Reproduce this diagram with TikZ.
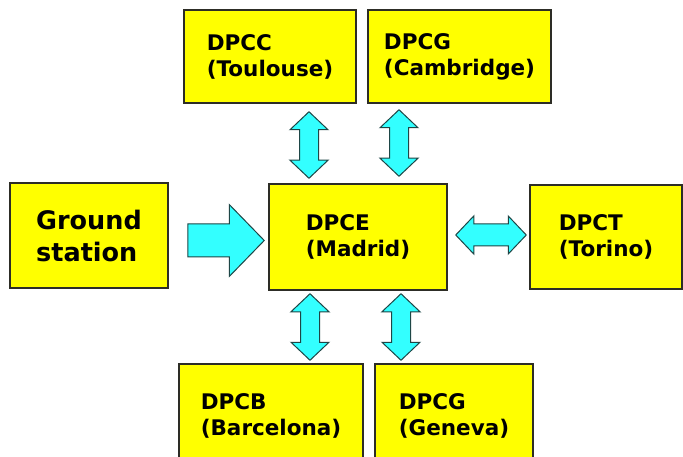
\documentclass[tikz,border=0pt]{standalone}
\usepackage{fontspec}
\setmainfont{DejaVu Sans}
\usetikzlibrary{calc}

\definecolor{boxfill}{RGB}{255,255,0}
\definecolor{boxline}{RGB}{45,45,38}
\definecolor{arrowfill}{RGB}{51,255,255}
\definecolor{arrowline}{RGB}{30,70,70}

\tikzset{
  % geometry of the block arrows
  ba head/.store in=\bahead, ba hw/.store in=\bahw, ba sw/.store in=\basw,
  ba head=18pt, ba hw=19pt, ba sw=9.5pt,
  centre/.style={draw=boxline, fill=boxfill, line width=1.5pt, inner sep=0pt,
    align=left, text=black,
    font=\fontsize{21.5pt}{26pt}\selectfont\bfseries},
  arrowbody/.style={draw=arrowline, fill=arrowfill, line width=1pt, line join=miter},
  % double-headed block arrow from the start point to the target point
  dblarrow/.style={arrowbody, to path={
    ($(\tikztostart)!\bahead!(\tikztotarget)$) coordinate (baA)
    ($(\tikztotarget)!\bahead!(\tikztostart)$) coordinate (baB)
    (\tikztostart)
    -- ($(baA)!\bahw!90:(\tikztotarget)$)
    -- ($(baA)!\basw!90:(\tikztotarget)$)
    -- ($(baB)!\basw!-90:(\tikztostart)$)
    -- ($(baB)!\bahw!-90:(\tikztostart)$)
    -- (\tikztotarget)
    -- ($(baB)!\bahw!90:(\tikztostart)$)
    -- ($(baB)!\basw!90:(\tikztostart)$)
    -- ($(baA)!\basw!-90:(\tikztotarget)$)
    -- ($(baA)!\bahw!-90:(\tikztotarget)$)
    -- cycle}},
  % single-headed block arrow pointing at the target point
  sglarrow/.style={arrowbody, to path={
    ($(\tikztotarget)!\bahead!(\tikztostart)$) coordinate (baB)
    ($(\tikztostart)!\basw!90:(\tikztotarget)$)
    -- ($(baB)!\basw!-90:(\tikztostart)$)
    -- ($(baB)!\bahw!-90:(\tikztostart)$)
    -- (\tikztotarget)
    -- ($(baB)!\bahw!90:(\tikztostart)$)
    -- ($(baB)!\basw!90:(\tikztostart)$)
    -- ($(\tikztostart)!\basw!-90:(\tikztotarget)$)
    -- cycle}},
}

\begin{document}
\begin{tikzpicture}[x=1pt, y=-1pt]
  \useasboundingbox (0,0) rectangle (683,457);
  \fill[white] (0,0) rectangle (683,457);
  \clip (0,0) rectangle (683,457);

  % processing centres
  \node[centre, minimum width=172pt, minimum height=93pt]  (dpcc)   at (270,56.5)  {DPCC\\(Toulouse)};
  \node[centre, minimum width=183pt, minimum height=93pt]  (dpcg)   at (459.5,56.5){DPCG\\(Cambridge)};
  \node[centre, minimum width=158pt, minimum height=105pt,
        font=\fontsize{25.5pt}{32pt}\selectfont\bfseries]  (ground) at (89,235.5)  {Ground\\station};
  \node[centre, minimum width=178pt, minimum height=106pt] (madrid) at (358,237)   {DPCE\\(Madrid)};
  \node[centre, minimum width=152pt, minimum height=104pt] (dpct)   at (606,237)   {DPCT\\(Torino)};
  \node[centre, minimum width=184pt, minimum height=104pt] (dpcb)   at (271,416)   {DPCB\\(Barcelona)};
  \node[centre, minimum width=158pt, minimum height=104pt] (dpcgv)  at (454,416)   {DPCG\\(Geneva)};

  % arrow end points
  \coordinate (tlA) at ([shift={(39,8)}]dpcc.south);
  \coordinate (tlB) at ([shift={(-49,-5)}]madrid.north);
  \coordinate (trA) at ([shift={(-60.5,6)}]dpcg.south);
  \coordinate (trB) at ([shift={(41,-7)}]madrid.north);
  \coordinate (blA) at ([shift={(-48,3)}]madrid.south);
  \coordinate (blB) at ([shift={(39,-3)}]dpcb.north);
  \coordinate (brA) at ([shift={(43,3)}]madrid.south);
  \coordinate (brB) at ([shift={(-53,-3)}]dpcgv.north);
  \coordinate (rA)  at ([shift={(8,-2)}]madrid.east);
  \coordinate (rB)  at ([shift={(-3,-2)}]dpct.west);
  \coordinate (gA)  at ([shift={(19,5)}]ground.east);
  \coordinate (gB)  at ([shift={(-4,3.5)}]madrid.west);

  % links
  \path[dblarrow] (tlA) to (tlB);
  \path[dblarrow] (trA) to (trB);
  \path[dblarrow] (blA) to (blB);
  \path[dblarrow] (brA) to (brB);
  \path[dblarrow, ba sw=11pt] (rA) to (rB);
  \path[sglarrow, ba head=35pt, ba hw=36pt, ba sw=16.5pt] (gA) to (gB);
\end{tikzpicture}
\end{document}
